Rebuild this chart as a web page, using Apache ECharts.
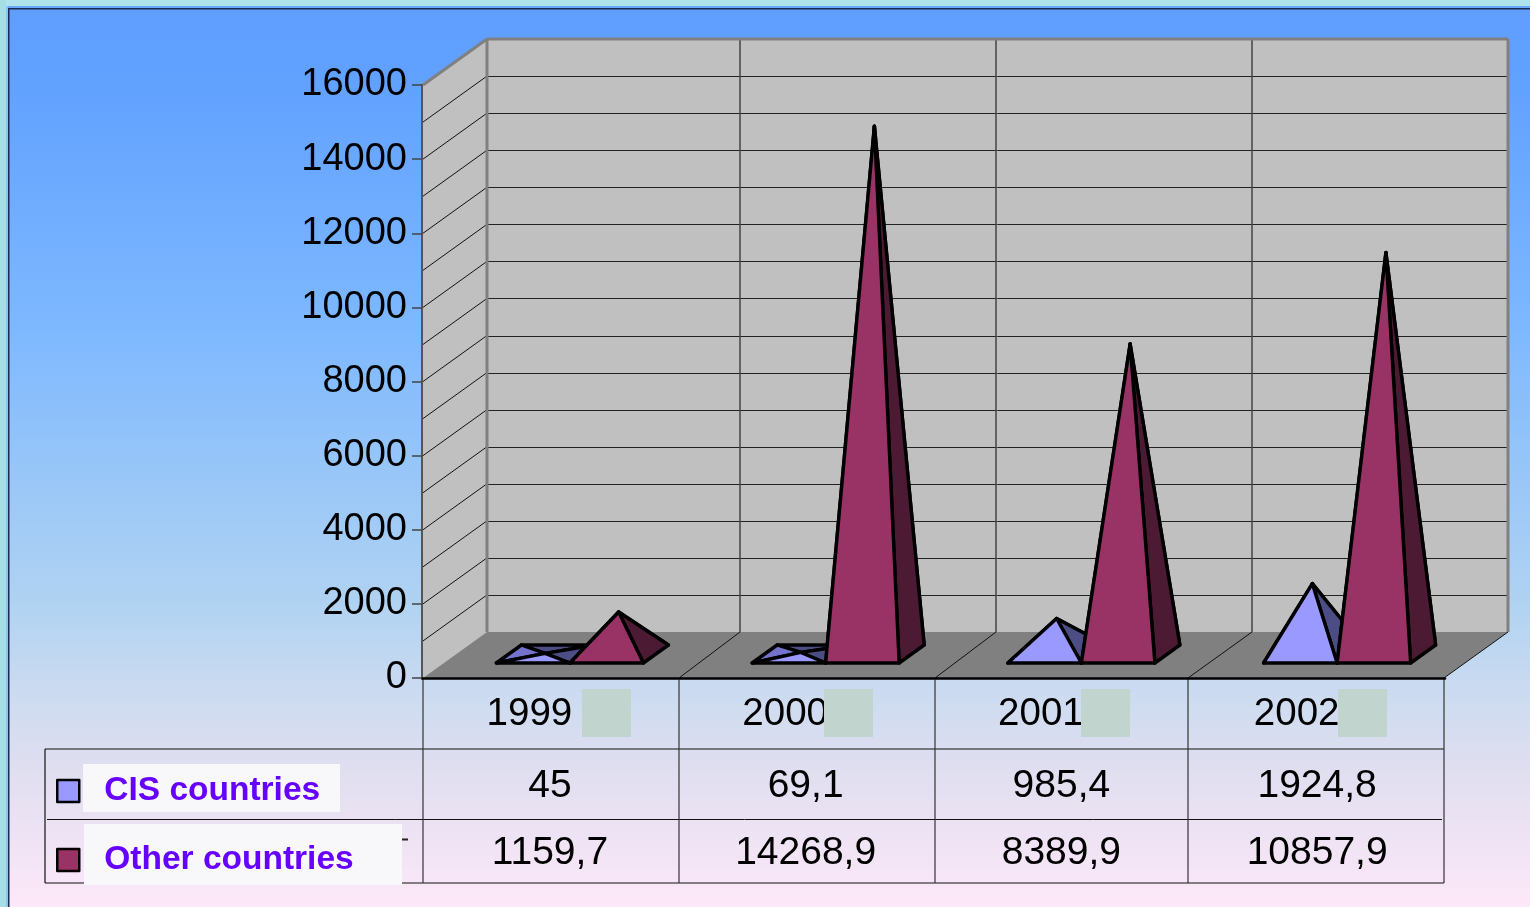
<!DOCTYPE html>
<html>
<head>
<meta charset="utf-8">
<style>html,body{margin:0;padding:0;overflow:hidden}#c{width:1530px;height:907px}</style>
<script src="https://cdn.jsdelivr.net/npm/echarts@6/dist/echarts.min.js"></script>
</head>
<body>
<div id="c"></div>
<script>
const years = ['1999', '2000', '2001', '2002'];
const cisName = 'CIS countries';
const otherName = 'Other countries';
const cisValues = [45, 69.1, 985.4, 1924.8];
const otherValues = [1159.7, 14268.9, 8389.9, 10857.9];
const cisLabels = ['45', '69,1', '985,4', '1924,8'];
const otherLabels = ['1159,7', '14268,9', '8389,9', '10857,9'];
const gridValues = [0,1000,2000,3000,4000,5000,6000,7000,8000,9000,10000,11000,12000,13000,14000,15000,16000];

const FONT = '"Liberation Sans", Arial, sans-serif';
const tableColumns = [423, 679, 935, 1188, 1444];
const backColumns = [487, 740, 996, 1252, 1508];
const wallDx = 64, wallDy = 46;
const Y_MAX = 16000;

function poly(points, fill, lw, stroke) {
  return { type: 'polygon', shape: { points }, style: { fill, stroke: stroke || '#000', lineWidth: lw === undefined ? 3.4 : lw, lineJoin: 'round' } };
}
function seg(x1, y1, x2, y2, color, lw) {
  return { type: 'line', shape: { x1, y1, x2, y2 }, style: { stroke: color, lineWidth: lw, fill: null } };
}

function pyramidRender(side, colors) {
  return function (params, api) {
    const idx = api.value(0);
    const base = api.coord([idx, 0]);
    const top = api.coord([idx, api.value(1)]);
    const band = api.size([1, 0])[0];
    const w = band * 0.2875;
    const left = base[0] + (side < 0 ? -w : 0);
    const right = left + w;
    const yF = base[1] - 15, xF = 20;
    const yB = base[1] - 33, xB = 45;
    const FL = [left + xF, yF], FR = [right + xF, yF];
    const BL = [left + xB, yB], BR = [right + xB, yB];
    const apex = [(left + right) / 2 + 32, top[1] - 23];
    return {
      type: 'group',
      children: [
        poly([BL, BR, apex], colors.side),
        poly([FL, BL, apex], colors.left),
        poly([FR, BR, apex], colors.side),
        poly([FL, FR, apex], colors.front)
      ]
    };
  };
}

function frameRender(params, api) {
  const y0 = api.coord([0, 0])[1];
  const yT = api.coord([0, Y_MAX])[1];
  const L = tableColumns[0], R = tableColumns[4];
  const bL = L + wallDx, bR = backColumns[4];
  const ch = [];
  // walls and floor
  ch.push(poly([[L, y0], [bL, y0 - wallDy], [bL, yT - wallDy], [L, yT]], '#c0c0c0', 0, 'transparent'));
  ch.push(poly([[bL, y0 - wallDy], [bR, y0 - wallDy], [bR, yT - wallDy], [bL, yT - wallDy]], '#c0c0c0', 0, 'transparent'));
  ch.push(poly([[L, y0], [bL, y0 - wallDy], [bR, y0 - wallDy], [R, y0]], '#808080', 0, 'transparent'));
  // gridlines
  gridValues.forEach(function (v) {
    if (v === 0 || v === Y_MAX) return;
    const y = api.coord([0, v])[1];
    ch.push(seg(L, y, bL, y - wallDy, '#111', 1));
    ch.push(seg(bL, Math.round(y - wallDy) + 0.5, bR, Math.round(y - wallDy) + 0.5, '#222', 1));
  });
  for (let i = 1; i < 4; i++) {
    ch.push(seg(backColumns[i], yT - wallDy, backColumns[i], y0 - wallDy, '#444', 1.5));
    ch.push(seg(tableColumns[i], y0, backColumns[i], y0 - wallDy, '#111', 1));
  }
  // gray outline of the walls
  ch.push(seg(L, yT, bL, yT - wallDy, '#808080', 3));
  ch.push(seg(bL, yT - wallDy, bR, yT - wallDy, '#808080', 3));
  ch.push(seg(bL, yT - wallDy, bL, y0 - wallDy, '#808080', 3));
  ch.push(seg(bR, yT - wallDy, bR, y0 - wallDy, '#808080', 3));
  ch.push(seg(R, y0, bR, y0 - wallDy, '#111', 1));
  // table rules
  ch.push(seg(45, 749, R, 749, '#555', 1.5));
  ch.push(seg(47, 819.5, 1442, 819.5, '#111', 1));
  ch.push(seg(45, 883, R, 883, '#111', 1.2));
  ch.push(seg(45, 749, 45, 883, '#111', 1.2));
  tableColumns.forEach(function (x) { ch.push(seg(x, y0, x, 883, '#333', 1.2)); });
  ch.push(seg(402, 839.5, 408, 839.5, '#222', 2));
  return { type: 'group', children: ch };
}

function tableTextRender(params, api) {
  const i = api.value(0);
  const x = api.coord([i, 0])[0];
  const mk = function (t, y) {
    return { type: 'text', style: { text: t, x: x, y: y, font: '39px ' + FONT, fill: '#000', textAlign: 'center', textVerticalAlign: 'middle' } };
  };
  return { type: 'group', children: [mk(cisLabels[i], 786), mk(otherLabels[i], 853)] };
}

const patches = [582, 824, 1081, 1338].map(function (x) {
  return { type: 'rect', z: 10, shape: { x: x, y: 689, width: 49, height: 48 }, style: { fill: '#c1d4ce' } };
});

const chart = echarts.init(document.getElementById('c'), null, { renderer: 'canvas' });
chart.setOption({
  animation: false,
  backgroundColor: {
    type: 'linear', x: 0, y: 0, x2: 0, y2: 1,
    colorStops: [
      { offset: 0, color: '#5f9eff' },
      { offset: 0.08, color: '#60a0ff' },
      { offset: 0.36, color: '#7db8ff' },
      { offset: 0.66, color: '#afd2f2' },
      { offset: 0.78, color: '#d0dcf0' },
      { offset: 0.86, color: '#e2dff0' },
      { offset: 1, color: '#fde8f9' }
    ]
  },
  grid: { left: 422, width: 1023, top: 85, height: 593 },
  xAxis: {
    type: 'category', data: years, z: 5,
    axisLine: { show: true, lineStyle: { color: '#000', width: 2.5 } },
    axisTick: { show: false },
    axisLabel: { show: true, interval: 0, margin: 17, color: '#000', fontFamily: FONT, fontSize: 38.5, padding: [0, 41, 0, 0] },
    splitLine: { show: false }
  },
  yAxis: {
    type: 'value', min: 0, max: Y_MAX, interval: 2000, z: 5,
    axisLine: { show: true, lineStyle: { color: '#555', width: 2 } },
    axisTick: { show: true, length: 10, lineStyle: { color: '#444', width: 1.5 } },
    axisLabel: { margin: 15, color: '#000', fontFamily: FONT, fontSize: 38, padding: [0, 0, 2, 0], formatter: function (v) { return String(v); } },
    splitLine: { show: false }
  },
  legend: {
    data: [cisName, otherName], orient: 'vertical', left: 51, top: 769, z: 20,
    itemWidth: 22, itemHeight: 22, itemGap: 35, icon: 'rect', selectedMode: false,
    itemStyle: { borderColor: '#000', borderWidth: 2.5, borderJoin: 'round' },
    textStyle: { color: '#6600ff', fontFamily: FONT, fontWeight: 'bold', fontSize: 33.5, padding: [2, 0, 0, 20] }
  },
  graphic: patches.concat([
    { type: 'rect', z: 10, shape: { x: 83, y: 764, width: 257, height: 48 }, style: { fill: '#f8f8fa' } },
    { type: 'rect', z: 10, shape: { x: 84, y: 824, width: 318, height: 61 }, style: { fill: '#f8f8fa' } },
    { type: 'rect', z: 30, shape: { x: 0, y: 0, width: 1530, height: 6 }, style: { fill: '#aee2ec' } },
    { type: 'rect', z: 30, shape: { x: 0, y: 0, width: 6, height: 907 }, style: { fill: '#a6dee6' } },
    { type: 'rect', z: 30, shape: { x: 6, y: 6, width: 1524, height: 2 }, style: { fill: '#6aa8ff' } },
    { type: 'rect', z: 30, shape: { x: 6, y: 8, width: 1524, height: 1.5 }, style: { fill: '#1a2a50' } },
    { type: 'rect', z: 30, shape: { x: 6, y: 6, width: 2, height: 901 }, style: { fill: '#8cc4f4' } },
    { type: 'rect', z: 30, shape: { x: 8, y: 8, width: 1.5, height: 899 }, style: { fill: '#1a2a50' } }
  ]),
  series: [
    { type: 'custom', name: 'frame', z: 1, data: [[0, 0]], renderItem: frameRender, silent: true, encode: { x: 0, y: 1 } },
    {
      type: 'custom', name: cisName, z: 2, itemStyle: { color: '#9999ff' },
      data: cisValues.map(function (v, i) { return [i, v]; }), encode: { x: 0, y: 1 },
      renderItem: pyramidRender(-1, { front: '#9999ff', side: '#4d4d85', left: '#7373cc' })
    },
    {
      type: 'custom', name: otherName, z: 3, itemStyle: { color: '#993366' },
      data: otherValues.map(function (v, i) { return [i, v]; }), encode: { x: 0, y: 1 },
      renderItem: pyramidRender(1, { front: '#993366', side: '#4d1a33', left: '#732650' })
    },
    {
      type: 'custom', name: 'table', z: 4, silent: true,
      data: years.map(function (y, i) { return [i, 0]; }), encode: { x: 0, y: 1 },
      renderItem: tableTextRender
    }
  ]
});
</script>
</body>
</html>
